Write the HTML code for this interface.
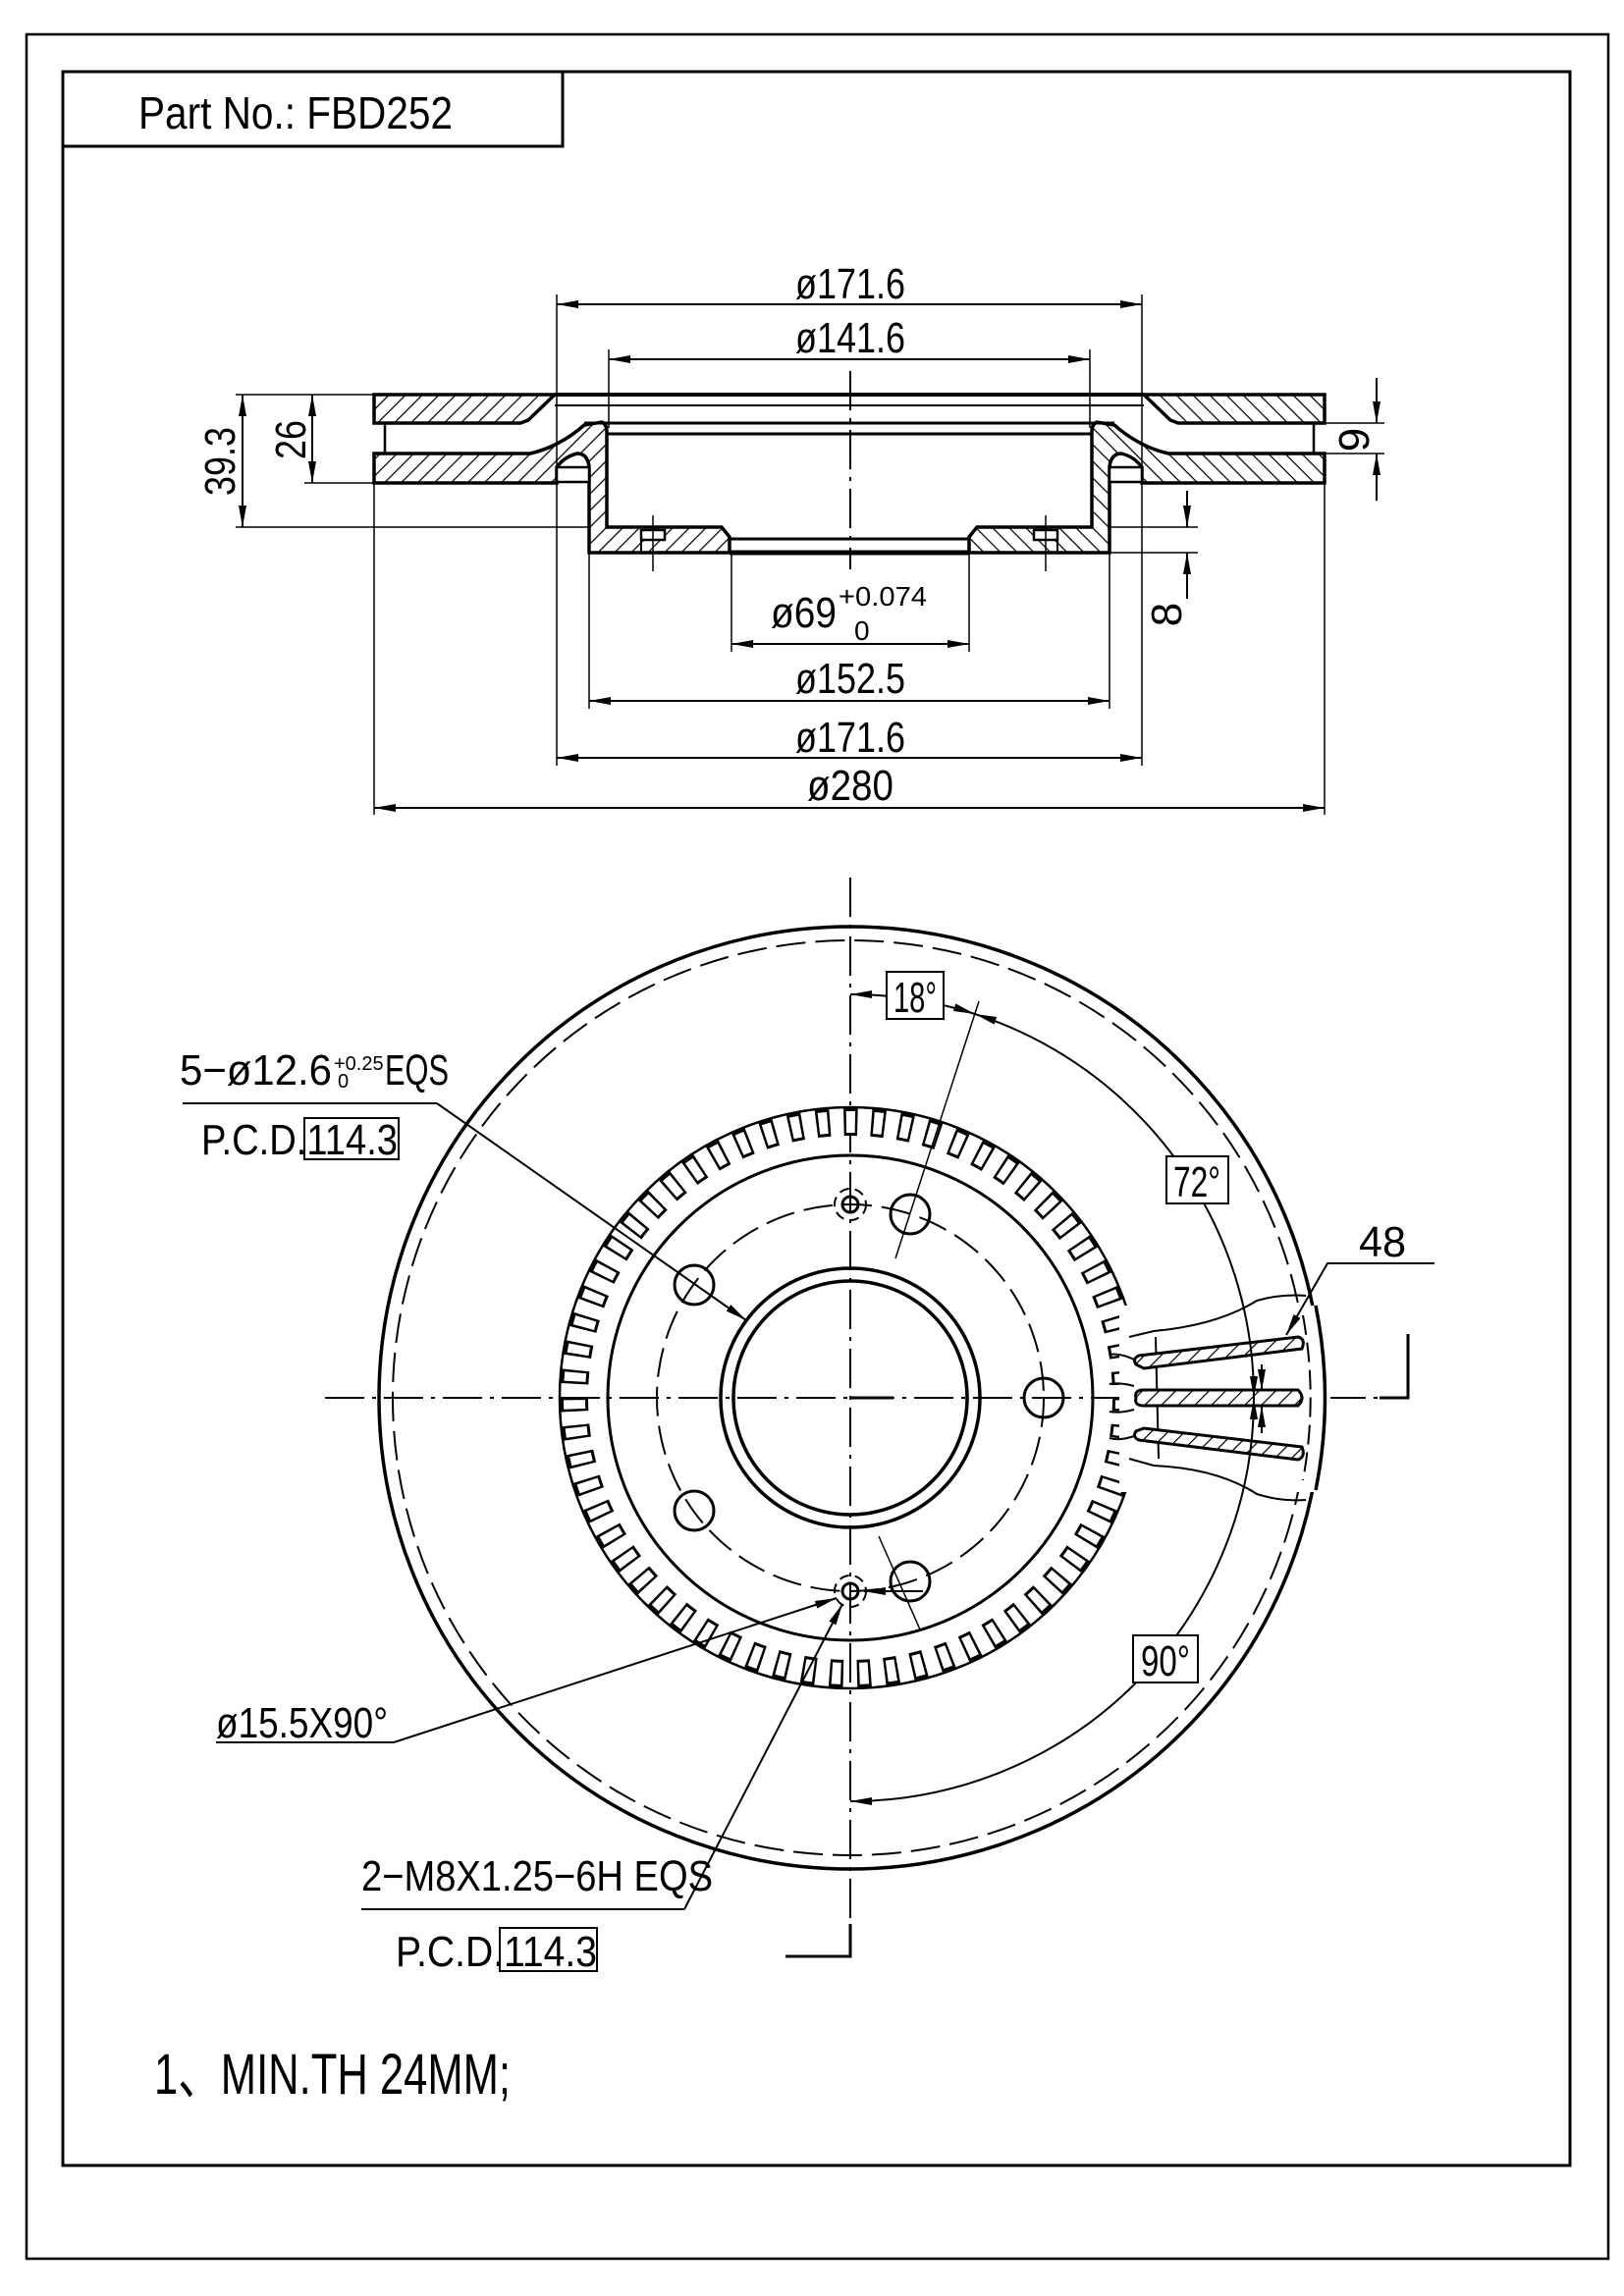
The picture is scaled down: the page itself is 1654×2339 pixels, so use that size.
<!DOCTYPE html>
<html><head><meta charset="utf-8"><style>
html,body{margin:0;padding:0;background:#fff}
svg{display:block}
text{font-family:"Liberation Sans",sans-serif;fill:#000}
</style></head><body>
<svg width="1654" height="2339" viewBox="0 0 1654 2339" xmlns="http://www.w3.org/2000/svg">
<defs>
<pattern id="h" width="12" height="12" patternUnits="userSpaceOnUse" patternTransform="rotate(45)">
<rect width="12" height="12" fill="#fff"/><line x1="0" y1="0" x2="0" y2="12" stroke="#000" stroke-width="2.5"/>
</pattern>
<marker id="a" markerWidth="22" markerHeight="8" refX="22" refY="4" orient="auto" markerUnits="userSpaceOnUse">
<path d="M0,0 L22,4 L0,8 Z" fill="#000"/></marker>
<marker id="b" markerWidth="22" markerHeight="8" refX="0" refY="4" orient="auto" markerUnits="userSpaceOnUse">
<path d="M22,0 L0,4 L22,8 Z" fill="#000"/></marker>
</defs>
<rect x="27" y="35" width="1611" height="2266" fill="none" stroke="#000" stroke-width="2.5"/>
<rect x="64" y="73" width="1535" height="2133" fill="none" stroke="#000" stroke-width="3"/>
<polyline points="64,149 573,149 573,73" fill="none" stroke="#000" stroke-width="3"/>
<text x="141" y="131" font-size="46" textLength="320" lengthAdjust="spacingAndGlyphs">Part No.: FBD252</text>

<g stroke="#000" fill="none">
<line x1="866" y1="378" x2="866" y2="580" stroke-width="2" stroke-dasharray="40,8,4,8"/>
<g id="half">
<polygon points="381,402 565,402 538,428 530,431 381,431" fill="url(#h)" stroke-width="3.5"/>
<line x1="392" y1="431" x2="392" y2="462" stroke-width="2.5"/>
<path d="M381,462 L540,462 Q570,455 595,433 L613,430 Q618,432 618,440 L618,537 L735,537 L743,547 L743,563 L600,563 L600,475 Q598,462 588,462 Q575,465 567,476 L567,492 L381,492 Z" fill="url(#h)" stroke-width="3.5"/>
<rect x="567" y="476" width="33" height="15" fill="#fff" stroke-width="2.5"/>
<rect x="653" y="540" width="24" height="10" fill="#fff" stroke-width="2.5"/>
<line x1="653" y1="550" x2="653" y2="563" stroke-width="2"/>
<line x1="665" y1="525" x2="665" y2="582" stroke-width="1.5"/>
</g>
<use href="#half" transform="translate(1730,0) scale(-1,1)"/>
<line x1="565" y1="402" x2="1165" y2="402" stroke-width="4"/>
<line x1="565" y1="413" x2="1165" y2="413" stroke-width="2"/>
<line x1="595" y1="431" x2="1135" y2="431" stroke-width="3"/>
<line x1="618" y1="442" x2="1112" y2="442" stroke-width="3"/>
<line x1="743" y1="549" x2="987" y2="549" stroke-width="3"/>
<line x1="743" y1="563" x2="987" y2="563" stroke-width="5"/>
<g stroke-width="1.5">
<line x1="567" y1="300" x2="567" y2="780"/><line x1="1163" y1="300" x2="1163" y2="780"/>
<line x1="620" y1="356" x2="620" y2="436"/><line x1="1110" y1="356" x2="1110" y2="436"/>
<line x1="600" y1="563" x2="600" y2="722"/><line x1="1130" y1="492" x2="1130" y2="722"/>
<line x1="745" y1="563" x2="745" y2="664"/><line x1="987" y1="563" x2="987" y2="664"/>
<line x1="381" y1="492" x2="381" y2="830"/><line x1="1349" y1="492" x2="1349" y2="830"/>
<line x1="240" y1="402" x2="381" y2="402"/><line x1="240" y1="537" x2="600" y2="537"/>
<line x1="310" y1="492" x2="381" y2="492"/>
<line x1="1349" y1="431" x2="1410" y2="431"/><line x1="1349" y1="462" x2="1410" y2="462"/>
<line x1="1130" y1="537" x2="1220" y2="537"/><line x1="1130" y1="563" x2="1220" y2="563"/>
</g>
<g stroke-width="2">
<line x1="567" y1="310" x2="1163" y2="310" marker-start="url(#b)" marker-end="url(#a)"/>
<line x1="620" y1="366" x2="1110" y2="366" marker-start="url(#b)" marker-end="url(#a)"/>
<line x1="745" y1="656" x2="987" y2="656" marker-start="url(#b)" marker-end="url(#a)"/>
<line x1="600" y1="714" x2="1130" y2="714" marker-start="url(#b)" marker-end="url(#a)"/>
<line x1="567" y1="772" x2="1163" y2="772" marker-start="url(#b)" marker-end="url(#a)"/>
<line x1="381" y1="823" x2="1349" y2="823" marker-start="url(#b)" marker-end="url(#a)"/>
<line x1="247" y1="402" x2="247" y2="537" marker-start="url(#b)" marker-end="url(#a)"/>
<line x1="318" y1="402" x2="318" y2="492" marker-start="url(#b)" marker-end="url(#a)"/>
<line x1="1402" y1="385" x2="1402" y2="431" marker-end="url(#a)"/>
<line x1="1402" y1="510" x2="1402" y2="462" marker-end="url(#a)"/>
<line x1="1209" y1="500" x2="1209" y2="537" marker-end="url(#a)"/>
<line x1="1209" y1="610" x2="1209" y2="563" marker-end="url(#a)"/>
</g>
</g>
<g font-size="44">
<text x="866" y="304" text-anchor="middle" textLength="112" lengthAdjust="spacingAndGlyphs">ø171.6</text>
<text x="866" y="359" text-anchor="middle" textLength="112" lengthAdjust="spacingAndGlyphs">ø141.6</text>
<text x="785" y="639" textLength="67" lengthAdjust="spacingAndGlyphs">ø69</text>
<text x="854" y="617" font-size="28" textLength="90" lengthAdjust="spacingAndGlyphs">+0.074</text>
<text x="870" y="652" font-size="28">0</text>
<text x="866" y="706" text-anchor="middle" textLength="112" lengthAdjust="spacingAndGlyphs">ø152.5</text>
<text x="866" y="766" text-anchor="middle" textLength="112" lengthAdjust="spacingAndGlyphs">ø171.6</text>
<text x="866" y="815" text-anchor="middle" textLength="88" lengthAdjust="spacingAndGlyphs">ø280</text>
<text transform="translate(239,470) rotate(-90)" text-anchor="middle" textLength="70" lengthAdjust="spacingAndGlyphs">39.3</text>
<text transform="translate(311,448) rotate(-90)" text-anchor="middle" textLength="40" lengthAdjust="spacingAndGlyphs">26</text>
<text transform="translate(1394,448) rotate(-90)" text-anchor="middle">9</text>
<text transform="translate(1203,626) rotate(-90)" text-anchor="middle">8</text>
</g>

<g stroke="#000" fill="none">
<line x1="866" y1="894" x2="866" y2="1993" stroke-width="2" stroke-dasharray="40,8,4,8"/>
<line x1="331" y1="1424" x2="1405" y2="1424" stroke-width="2" stroke-dasharray="40,8,4,8"/>
<polyline points="800,1993 866,1993 866,1960" stroke-width="3"/>
<polyline points="1405,1424 1434,1424 1434,1359" stroke-width="3"/>
<circle cx="866" cy="1424" r="480" stroke-width="3.5"/>
<circle cx="866" cy="1424" r="466" stroke-width="2" stroke-dasharray="30,10"/>
<circle cx="866" cy="1424" r="281" stroke="#000" stroke-width="28" stroke-dasharray="14,14.03"/>
<circle cx="866" cy="1424" r="281" stroke="#fff" stroke-width="22" stroke-dasharray="9,19.03" stroke-dashoffset="-2.5"/>
<circle cx="866" cy="1424" r="296" stroke-width="2.5"/>
<circle cx="866" cy="1424" r="247" stroke-width="3"/>
<circle cx="866" cy="1424" r="197" stroke-width="2" stroke-dasharray="30,10"/>
<circle cx="866" cy="1424" r="132" stroke-width="3.5"/>
<circle cx="866" cy="1424" r="119" stroke-width="3.5"/>
<line x1="866" y1="1424" x2="910" y2="1424" stroke-width="3"/>
<g stroke-width="3">
<circle cx="927" cy="1237" r="20"/><circle cx="1063" cy="1424" r="20"/>
<circle cx="927" cy="1611" r="20"/><circle cx="707" cy="1539" r="20"/><circle cx="707" cy="1309" r="20"/>
<circle cx="866" cy="1227" r="8"/><circle cx="866" cy="1621" r="8"/>
<circle cx="866" cy="1227" r="16" stroke-width="2" stroke-dasharray="10,6"/>
<circle cx="866" cy="1621" r="16" stroke-width="2" stroke-dasharray="10,6"/>
</g>
<rect x="1140" y="1330" width="215" height="190" fill="#fff" stroke="none"/>
<path d="M1150,1362 L1175,1356 Q1240,1350 1280,1325 Q1305,1318 1330,1320" stroke-width="2"/>
<path d="M1150,1486 L1175,1493 Q1240,1496 1280,1522 Q1305,1530 1330,1528" stroke-width="2"/>
<path d="M1340,1330 A476,476 0 0 1 1340,1518" stroke-width="3.5"/>
<path d="M1327,1340 A462,462 0 0 1 1327,1508" stroke-width="2" stroke-dasharray="20,8"/>
<line x1="1177" y1="1362" x2="1180" y2="1486" stroke-width="2"/>
<path d="M1157,1390 Q1153,1384 1160,1381 L1322,1362 Q1330,1364 1326,1374 L1165,1394 Z" fill="url(#h)" stroke-width="3"/>
<path d="M1157,1424 Q1155,1417 1163,1416 L1322,1416 Q1330,1424 1322,1432 L1163,1432 Q1155,1431 1157,1424 Z" fill="url(#h)" stroke-width="3"/>
<path d="M1157,1458 Q1153,1464 1160,1467 L1322,1487 Q1330,1484 1326,1474 L1165,1455 Z" fill="url(#h)" stroke-width="3"/>
<path d="M1130,1380 Q1140,1378 1155,1385 M1130,1410 Q1140,1408 1155,1412 M1130,1438 Q1140,1440 1155,1436 M1130,1465 Q1140,1468 1155,1463" stroke-width="2"/>
<path d="M866,1013 A411,411 0 0 1 993,1033" stroke-width="2" marker-start="url(#b)" marker-end="url(#a)"/>
<path d="M993,1033 A411,411 0 0 1 1277,1424" stroke-width="2" marker-start="url(#b)" marker-end="url(#a)"/>
<path d="M1277,1424 A411,411 0 0 1 866,1835" stroke-width="2" marker-start="url(#b)" marker-end="url(#a)"/>
<line x1="912" y1="1282" x2="997" y2="1020" stroke-width="1.5"/>
<line x1="895" y1="1565" x2="937" y2="1660" stroke-width="1.5"/>
<line x1="1285" y1="1390" x2="1285" y2="1417" stroke-width="2" marker-end="url(#a)"/>
<line x1="1285" y1="1460" x2="1285" y2="1432" stroke-width="2" marker-end="url(#a)"/>
<line x1="186" y1="1124" x2="445" y2="1124" stroke-width="2"/>
<line x1="445" y1="1124" x2="760" y2="1345" stroke-width="2" marker-end="url(#a)"/>
<polyline points="1461,1287 1352,1287 1310,1360" stroke-width="2" marker-end="url(#a)"/>
<line x1="220" y1="1775" x2="401" y2="1775" stroke-width="2"/>
<line x1="401" y1="1775" x2="852" y2="1628" stroke-width="2" marker-end="url(#a)"/>
<line x1="368" y1="1945" x2="697" y2="1945" stroke-width="2"/>
<line x1="697" y1="1945" x2="858" y2="1634" stroke-width="2" marker-end="url(#a)"/>
<line x1="940" y1="1621" x2="880" y2="1621" stroke-width="2" marker-end="url(#a)"/>
<rect x="903" y="990" width="58" height="48" fill="#fff" stroke-width="2"/>
<rect x="1188" y="1178" width="63" height="48" fill="#fff" stroke-width="2"/>
<rect x="1154" y="1666" width="66" height="48" fill="#fff" stroke-width="2"/>
<rect x="310" y="1139" width="96" height="42" fill="none" stroke-width="2"/>
<rect x="509" y="1964" width="99" height="44" fill="none" stroke-width="2"/>
</g>
<g font-size="44">
<text x="932" y="1031" text-anchor="middle" textLength="44" lengthAdjust="spacingAndGlyphs">18°</text>
<text x="1219" y="1219" text-anchor="middle" textLength="48" lengthAdjust="spacingAndGlyphs">72°</text>
<text x="1187" y="1707" text-anchor="middle" textLength="50" lengthAdjust="spacingAndGlyphs">90°</text>
<text x="1384" y="1280" textLength="48" lengthAdjust="spacingAndGlyphs">48</text>
<text x="183" y="1105" textLength="155" lengthAdjust="spacingAndGlyphs">5−ø12.6</text>
<text x="340" y="1090" font-size="20">+0.25</text>
<text x="344" y="1108" font-size="20">0</text>
<text x="392" y="1105" textLength="65" lengthAdjust="spacingAndGlyphs">EQS</text>
<text x="205" y="1176" textLength="200" lengthAdjust="spacingAndGlyphs">P.C.D.114.3</text>
<text x="220" y="1770" textLength="175" lengthAdjust="spacingAndGlyphs">ø15.5X90°</text>
<text x="368" y="1926" textLength="358" lengthAdjust="spacingAndGlyphs">2−M8X1.25−6H EQS</text>
<text x="403" y="2003" textLength="205" lengthAdjust="spacingAndGlyphs">P.C.D.114.3</text>
<text x="157" y="2133" font-size="58" textLength="363" lengthAdjust="spacingAndGlyphs">1、MIN.TH 24MM;</text>
</g>
</svg>
</body></html>
